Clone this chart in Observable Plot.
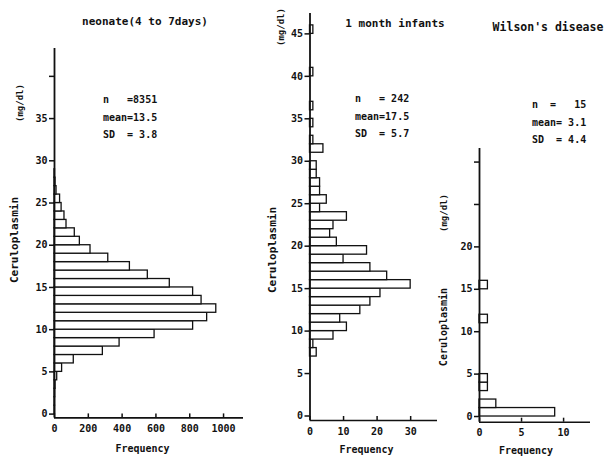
<!DOCTYPE html>
<html><head><meta charset="utf-8">
<script src="https://cdn.jsdelivr.net/npm/d3@7"></script>
<script src="https://cdn.jsdelivr.net/npm/@observablehq/plot@0.6"></script>
<style>
html,body{margin:0;padding:0;background:#fff;}
#chart{position:relative;width:604px;height:457px;overflow:hidden;background:#fff;font-family:"DejaVu Sans Mono",monospace;font-weight:bold;color:#111;}
#chart svg{position:absolute;top:0;}
.t{position:absolute;white-space:pre;line-height:1;transform:translate(0,-50%);}
.c{position:absolute;white-space:pre;line-height:1;transform:translate(-50%,-50%);}
.r{position:absolute;white-space:pre;line-height:1;transform:translate(-50%,-50%) rotate(-90deg);}
</style></head><body><div id="chart"></div>
<script>
// ---- data ----
const neonateBins   = [0,1,2,3,4,5,6,7,8,9,10,11,12,13,14,15,16,17,18,19,20,21,22,23,24,25,26,27,28];
const neonateCounts = [3,3,4,6,16,45,114,286,385,592,820,903,957,870,820,682,552,446,318,213,150,120,71,59,42,33,12,6,3];
const infantBins    = [7,8,9,10,11,12,13,14,15,16,17,18,19,20,21,22,23,24,25,26,27,28,29,31,32,34,36,40,45];
const infantCounts  = [2,1,7,11,9,15,18,21,30,23,18,10,17,8,6,7,11,3,5,3,3,2,2,4,1,1,1,1,1];
const wilsonBins    = [0,1,3,4,11,15];
const wilsonCounts  = [9,2,1,1,1,1];

const neonateXTicks = [0,200,400,600,800,1000];
const neonateYTicks = [0,5,10,15,20,25,30,35,40];
const neonateYLabels = [0,5,10,15,20,25,30,35];
const infantXTicks = [0,10,20,30];
const infantYTicks = [0,5,10,15,20,25,30,35,40,45];
const wilsonXTicks = [0,5,10];
const wilsonYTicks = [0,5,10,15,20,25,30];
const wilsonYLabels = [0,5,10,15,20];

const titles = ["neonate(4 to 7days)", "1 month infants", "Wilson's disease"];
const stats = [
  ["n   =8351", "mean=13.5", "SD  = 3.8"],
  ["n   = 242", "mean=17.5", "SD  = 5.7"],
  ["n  =   15", "mean= 3.1", "SD  = 4.4"]
];
const yTitle = "Ceruloplasmin";
const yUnit = "(mg/dl)";
const xTitle = "Frequency";

const chart = document.getElementById("chart");

function panel(o) {
  const data = o.bins.map((b, i) => ({lo: b, hi: b + 1, n: o.counts[i]})).filter(d => d.n > 0);
  const svg = Plot.plot({
    width: o.width, height: 457,
    marginLeft: o.mL, marginRight: o.mR, marginTop: o.mT, marginBottom: o.mB,
    x: {domain: o.xDomain},
    y: {domain: o.yDomain},
    style: {background: "transparent", fontFamily: "DejaVu Sans Mono, monospace", fontSize: "10px", fontWeight: "bold", color: "#111", overflow: "visible"},
    marks: [
      Plot.rectX(data, {x: "n", y1: "lo", y2: "hi", fill: "white", stroke: "#111", strokeWidth: 1.3}),
      Plot.ruleX([o.xDomain[0]], {stroke: "#111", strokeWidth: 1.8}),
      Plot.ruleY([o.yDomain[0]], {stroke: "#111", strokeWidth: 1.6}),
      Plot.axisY({ticks: o.yTicks, tickFormat: d => o.yLabels.includes(d) ? String(d) : "", tickSize: 5, tickPadding: 2, label: null, strokeWidth: 1.5}),
      Plot.axisX({ticks: o.xTicks, tickFormat: d => String(d), tickSize: -4, tickPadding: 11, label: null, strokeWidth: 1.5})
    ]
  });
  svg.style.left = o.left + "px";
  chart.appendChild(svg);
}

panel({bins: neonateBins, counts: neonateCounts, left: 0, width: 260, mL: 54, mR: 17, mT: 48, mB: 39.6,
  xDomain: [0, 1118], yDomain: [-0.45, 43.3], xTicks: neonateXTicks, yTicks: neonateYTicks, yLabels: neonateYLabels});
panel({bins: infantBins, counts: infantCounts, left: 260, width: 185, mL: 49.5, mR: 8, mT: 13, mB: 37,
  xDomain: [0, 38], yDomain: [-0.53, 47.4], xTicks: infantXTicks, yTicks: infantYTicks, yLabels: infantYTicks});
panel({bins: wilsonBins, counts: wilsonCounts, left: 445, width: 159, mL: 34, mR: 14, mT: 148, mB: 35.3,
  xDomain: [0, 13.2], yDomain: [-0.67, 31.6], xTicks: wilsonXTicks, yTicks: wilsonYTicks, yLabels: wilsonYLabels});

function addText(cls, txt, x, y, size) {
  const d = document.createElement("div");
  d.className = cls;
  d.textContent = txt;
  d.style.left = x + "px";
  d.style.top = y + "px";
  d.style.fontSize = size + "px";
  chart.appendChild(d);
}

// titles
addText("c", titles[0], 145, 21, 11);
addText("c", titles[1], 395, 23, 11);
addText("c", titles[2], 548, 27.5, 11.5);
// stats
const statPos = [[103, 100], [355, 99], [532, 105]];
stats.forEach((rows, p) => rows.forEach((r, i) => addText("t", r, statPos[p][0], statPos[p][1] + i * 17.5, 10)));
// axis titles
addText("c", xTitle, 142.5, 448.5, 10);
addText("c", xTitle, 366.5, 450, 10);
addText("c", xTitle, 526, 451, 10);
addText("r", yTitle, 14, 240, 11);
addText("r", yUnit, 20, 103, 9);
addText("r", yTitle, 272, 250, 11);
addText("r", yUnit, 281, 27, 9);
addText("r", yTitle, 444, 327, 10);
addText("r", yUnit, 444, 213, 9);
</script></body></html>
